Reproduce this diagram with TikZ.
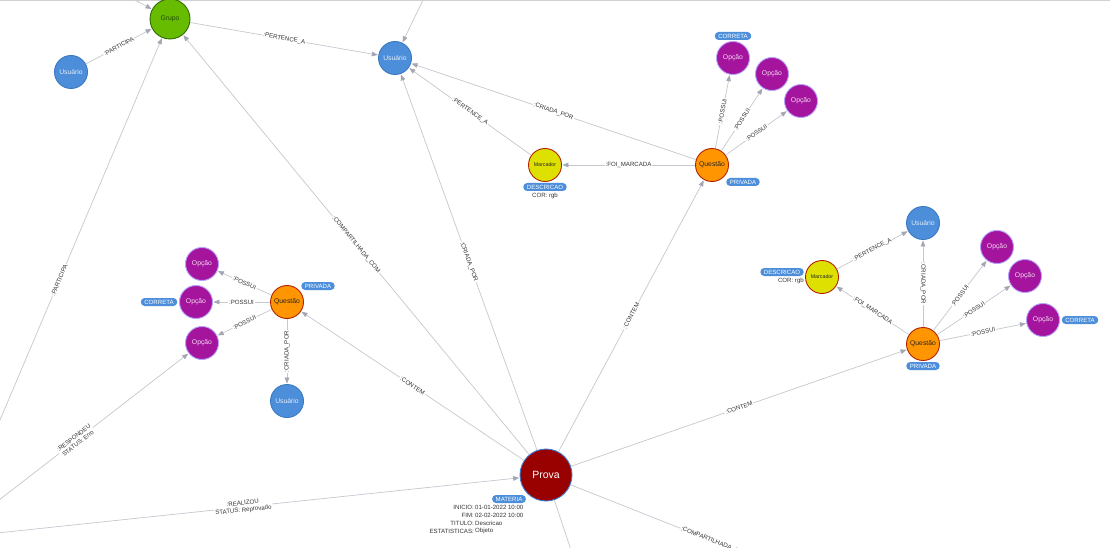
\documentclass[tikz,border=0pt]{standalone}
\usepackage{fontspec}
\setmainfont{Liberation Sans}
\usetikzlibrary{arrows.meta}
\definecolor{edgec}{HTML}{C6C8D0}
\definecolor{arrc}{HTML}{A3A7B3}
\definecolor{lblc}{HTML}{333333}
\definecolor{usrf}{HTML}{4C8EDA}
\definecolor{usrd}{HTML}{3A78C2}
\definecolor{grpf}{HTML}{68BC00}
\definecolor{grpd}{HTML}{2E6B00}
\definecolor{opcf}{HTML}{A5149C}
\definecolor{opcd}{HTML}{B4A0FF}
\definecolor{qf}{HTML}{FF9500}
\definecolor{qd}{HTML}{B22200}
\definecolor{mf}{HTML}{DDE000}
\definecolor{pf}{HTML}{990000}
\definecolor{pd}{HTML}{3D7BD0}
\definecolor{tagc}{HTML}{4C8EDA}
\begin{document}
\begin{tikzpicture}[x=1pt,y=-1pt,
  nd/.style={circle, minimum size=33pt, inner sep=0pt, line width=0.9pt, font=\fontsize{6.8}{7}\selectfont},
  usr/.style={nd, fill=usrf, draw=usrd, text=white!85!usrf},
  grp/.style={nd, minimum size=40pt, fill=grpf, draw=grpd, text=grpd!70!black},
  opc/.style={nd, fill=opcf, draw=opcd, text=white!85!opcf},
  qst/.style={nd, fill=qf, draw=qd, text=black!85},
  mrc/.style={nd, fill=mf, draw=qd, text=black!85, font=\fontsize{5.3}{6}\selectfont},
  prv/.style={nd, minimum size=52pt, fill=pf, draw=pd, text=white, font=\fontsize{10.5}{12}\selectfont},
  ghost/.style={circle, minimum size=33pt, inner sep=0pt},
  edge/.style={draw=edgec, line width=0.7pt, -{Triangle[length=6pt,width=4.6pt,color=arrc]}, shorten >=0.5pt},
  plain/.style={draw=edgec, line width=0.7pt},
  lbl/.style={sloped, fill=white, inner sep=1pt, font=\fontsize{6.1}{7}\selectfont, text=lblc},
  vlbl/.style={fill=white, inner sep=1pt, font=\fontsize{6.1}{7}\selectfont, text=lblc},
  tag/.style={rounded corners=3.8pt, fill=tagc, text=white, font=\fontsize{6.1}{7}\selectfont, inner xsep=3.5pt, inner ysep=0pt, minimum height=8pt},
  prop/.style={inner sep=0pt, font=\fontsize{6.1}{7}\selectfont, text=lblc}
]
\useasboundingbox (0,0) rectangle (1110,548);
\begin{scope}
\clip (0,0) rectangle (1110,548);
\fill[white] (0,0) rectangle (1110,548);
\draw[draw=black!18, line width=1pt] (0,1) -- (1110,1);

% nodes
\node[grp] (grupo) at (170,19) {Grupo};
\node[usr] (usr1) at (71,72) {Usuário};
\node[usr] (usr2) at (395,58) {Usuário};
\node[mrc] (marc1) at (545,165) {Marcador};
\node[qst] (q1) at (712,165) {Questão};
\node[opc] (op1a) at (733,58) {Opção};
\node[opc] (op1b) at (772,74) {Opção};
\node[opc] (op1c) at (801,101) {Opção};
\node[qst] (q2) at (287,302) {Questão};
\node[opc] (op2a) at (202,264) {Opção};
\node[opc] (op2b) at (196,302) {Opção};
\node[opc] (op2c) at (202,343) {Opção};
\node[usr] (usr3) at (287,401) {Usuário};
\node[usr] (usr4) at (923,223) {Usuário};
\node[mrc] (marc2) at (822,277) {Marcador};
\node[qst] (q3) at (923,344) {Questão};
\node[opc] (op3a) at (997,247) {Opção};
\node[opc] (op3b) at (1025,276) {Opção};
\node[opc] (op3c) at (1043,320) {Opção};
\node[prv] (prova) at (546,475) {Prova};

% off-screen ends
\node[ghost] (extU) at (-50,538) {};
\node[ghost] (extA) at (100,-19) {};
\node[ghost] (extB) at (451,-58) {};
\node[ghost] (extC) at (606,655) {};
\node[ghost] (extD) at (874,605) {};

% edges
\draw[edge] (extA) -- (grupo);
\draw[edge] (extB) -- (usr2);
\draw[edge] (usr1) -- node[lbl]{:PARTICIPA} (grupo);
\draw[edge] (grupo) -- node[lbl]{:PERTENCE\_A} (usr2);
\draw[edge] (extU) -- node[lbl]{:PARTICIPA} (grupo);
\draw[edge] (prova) -- node[lbl]{:COMPARTILHADA\_COM} (grupo);
\draw[edge] (prova) -- node[lbl]{:CRIADA\_POR} (usr2);
\draw[edge] (marc1) -- node[lbl]{:PERTENCE\_A} (usr2);
\draw[edge] (q1) -- node[lbl]{:CRIADA\_POR} (usr2);
\draw[edge] (q1) -- node[lbl]{:FOI\_MARCADA} (marc1);
\draw[edge] (q1) -- node[lbl]{:POSSUI} (op1a);
\draw[edge] (q1) -- node[lbl]{:POSSUI} (op1b);
\draw[edge] (q1) -- node[lbl]{:POSSUI} (op1c);
\draw[edge] (prova) -- node[lbl]{:CONTEM} (q1);
\draw[edge] (prova) -- node[lbl]{:CONTEM} (q2);
\draw[edge] (q2) -- node[lbl]{:POSSUI} (op2a);
\draw[edge] (q2) -- node[lbl]{:POSSUI} (op2b);
\draw[edge] (q2) -- node[lbl]{:POSSUI} (op2c);
\draw[edge] (q2) -- node[vlbl, rotate=90]{:CRIADA\_POR} (usr3);
\draw[edge] (prova) -- node[lbl]{:CONTEM} (q3);
\draw[edge] (q3) -- node[vlbl, rotate=-90]{:CRIADA\_POR} (usr4);
\draw[edge] (q3) -- node[lbl]{:FOI\_MARCADA} (marc2);
\draw[edge] (marc2) -- node[lbl]{:PERTENCE\_A} (usr4);
\draw[edge] (q3) -- node[lbl]{:POSSUI} (op3a);
\draw[edge] (q3) -- node[lbl]{:POSSUI} (op3b);
\draw[edge] (q3) -- node[lbl]{:POSSUI} (op3c);
\draw[edge] (extU) -- node[lbl, align=center]{:RESPONDEU\\STATUS: Erro} (op2c);
\draw[edge] (extU) -- node[lbl, align=center]{:REALIZOU\\STATUS: Reprovado} (prova);
\draw[edge] (prova) -- (extC);
\draw[edge] (prova) -- node[lbl]{:COMPARTILHADA\_COM} (extD);

% tags and properties
\node[tag] (t1) at (733,36) {CORRETA};
\node[tag] (t2) at (743,182) {PRIVADA};
\node[tag] (t3) at (545,187) {DESCRICAO};
\node[prop] (p3) at (545,196) {COR: rgb};
\node[tag] (t4) at (318,286) {PRIVADA};
\node[tag] (t5) at (159,302) {CORRETA};
\node[tag] (t6) at (923,366) {PRIVADA};
\node[tag] (t7) at (782,272) {DESCRICAO};
\node[prop, anchor=east] (p7) at (804,281) {COR: rgb};
\node[tag] (t8) at (1080,320) {CORRETA};
\node[tag] (t9) at (509,499) {MATERIA};
\node[prop, anchor=east] (k1) at (474,507) {INICIO:};
\node[prop, anchor=west] (v1) at (475,507) {01-01-2022 10:00};
\node[prop, anchor=east] (k2) at (474,515) {FIM:};
\node[prop, anchor=west] (v2) at (475,515) {02-02-2022 10:00};
\node[prop, anchor=east] (k3) at (474,523) {TITULO:};
\node[prop, anchor=west] (v3) at (475,523) {Descricao};
\node[prop, anchor=east] (k4) at (474,531) {ESTATISTICAS:};
\node[prop, anchor=west] (v4) at (475,531) {Objeto};
\end{scope}
\end{tikzpicture}
\end{document}
